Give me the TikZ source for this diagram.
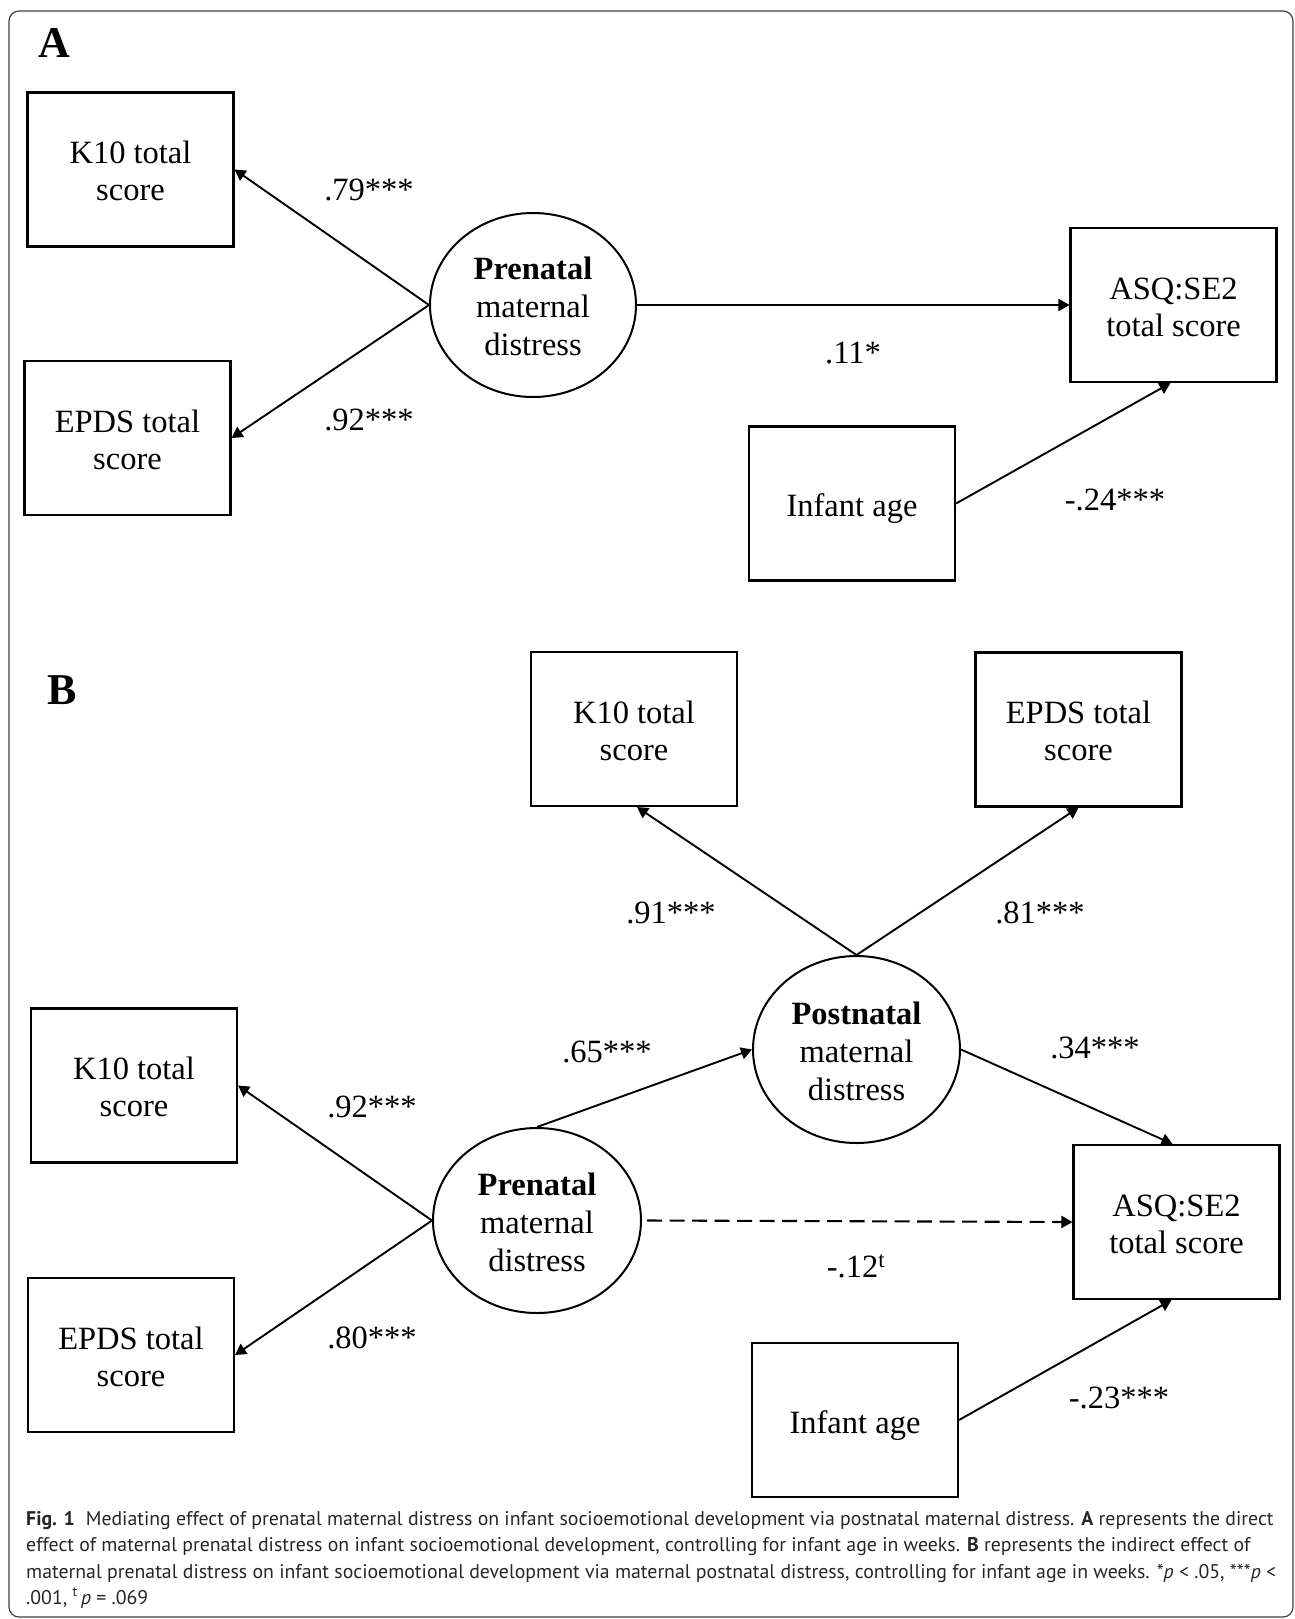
\documentclass[tikz,border=0pt]{standalone}
\usepackage{fontspec}
\setmainfont{Liberation Serif}
\newfontfamily\capfont{PT Sans}
\usetikzlibrary{arrows.meta,shapes.geometric}
\newcommand\diagfont{\fontsize{32.5}{37}\selectfont}
\newcommand\latfont{\fontsize{32.5}{38}\selectfont}
\newcommand\capsize{\capfont\fontsize{19.8}{24}\selectfont}
\begin{document}
\begin{tikzpicture}[x=1pt,y=-1pt,
  every node/.style={font=\diagfont},
  mbox/.style={draw,line width=2.1pt,minimum width=206pt,minimum height=154pt,inner sep=0pt,align=center,text height=62pt,text depth=0pt},
  sbox/.style={mbox,text height=26.4pt,text depth=0pt},
  lat/.style={draw,ellipse,line width=2pt,inner sep=0pt,align=center,font=\latfont,text height=101pt,text depth=0pt},
  arr/.style={line width=1.9pt,-{Triangle[length=11pt,width=12pt]}},
  lab/.style={anchor=base,inner sep=0pt},
  panel/.style={anchor=base west,inner sep=0pt,font=\fontsize{44}{44}\selectfont\bfseries},
  capline/.style={anchor=base west,inner sep=0pt,font=\capsize,text=black!85}
]
\useasboundingbox (0,0) rectangle (1295,1619);
\draw[black!75,line width=1.2pt,rounded corners=10pt] (9,11) rectangle (1293,1617);

% ---------- Panel A ----------
\node[panel] (lblA) at (38,57) {A};
\node[mbox] (k10A) at (130.5,169.5) {K10 total\\score};
\node[mbox] (epdsA) at (127.5,438) {EPDS total\\score};
\node[mbox] (asqA) at (1173.5,305) {ASQ:SE2\\total score};
\node[sbox] (infA) at (852,503.5) {Infant age};
\node[lat,minimum width=206pt,minimum height=184pt] (preA) at (533,305) {\textbf{Prenatal}\\maternal\\distress};

\draw[arr] (preA.west) -- (k10A.east);
\draw[arr] (preA.west) -- (epdsA.east);
\draw[arr] (preA.east) -- (asqA.west);
\draw[arr] (infA.east) -- ([xshift=-3pt]asqA.south);

\node[lab] (lA1) at (369,200) {.79***};
\node[lab] (lA2) at (369,430) {.92***};
\node[lab] (lA3) at (853,363) {.11*};
\node[lab] (lA4) at (1115,510) {-.24***};

% ---------- Panel B ----------
\node[panel] (lblB) at (47,704) {B};
\node[mbox] (k10Bt) at (634,729) {K10 total\\score};
\node[mbox] (epdsBt) at (1078.5,729.5) {EPDS total\\score};
\node[lat,minimum width=207pt,minimum height=187pt] (postB) at (856.5,1049.5) {\textbf{Postnatal}\\maternal\\distress};
\node[mbox] (k10Bl) at (134,1085.5) {K10 total\\score};
\node[mbox] (epdsBl) at (131,1355) {EPDS total\\score};
\node[lat,minimum width=208pt,minimum height=185pt] (preB) at (537,1220.5) {\textbf{Prenatal}\\maternal\\distress};
\node[mbox] (asqB) at (1176.5,1222) {ASQ:SE2\\total score};
\node[sbox] (infB) at (855,1420) {Infant age};

\draw[arr] (postB.north) -- ([xshift=3pt]k10Bt.south);
\draw[arr] (postB.north) -- (epdsBt.south);
\draw[arr] (preB.west) -- (k10Bl.east);
\draw[arr] (preB.west) -- (epdsBl.east);
\draw[arr] (preB.north) -- (postB.west);
\draw[arr] (postB.east) -- ([xshift=-4pt]asqB.north);
\draw[arr,line width=2.1pt,dash pattern=on 15pt off 7.5pt] ([xshift=5pt]preB.east) -- (asqB.west);
\draw[arr] (infB.east) -- ([xshift=-5pt]asqB.south);

\node[lab] (lB1) at (671,923) {.91***};
\node[lab] (lB2) at (1040,923) {.81***};
\node[lab] (lB3) at (607,1062) {.65***};
\node[lab] (lB4) at (1095,1058) {.34***};
\node[lab] (lB5) at (372,1117) {.92***};
\node[lab] (lB6) at (372,1348) {.80***};
\node[lab] (lB7) at (856,1277) {-.12\textsuperscript{t}};
\node[lab] (lB8) at (1119,1408) {-.23***};

% ---------- Caption ----------
\node[capline] (cap1) at (26,1525) {\textbf{Fig. 1}\hspace{0.55em}Mediating effect of prenatal maternal distress on infant socioemotional development via postnatal maternal distress. \textbf{A} represents the direct};
\node[capline] (cap2) at (26,1551.5) {effect of maternal prenatal distress on infant socioemotional development, controlling for infant age in weeks. \textbf{B} represents the indirect effect of};
\node[capline] (cap3) at (26,1578) {maternal prenatal distress on infant socioemotional development via maternal postnatal distress, controlling for infant age in weeks. *\textit{p} < .05, ***\textit{p} <};
\node[capline] (cap4) at (26,1604.5) {.001, \textsuperscript{t}\,\textit{p} = .069};
\end{tikzpicture}
\end{document}
